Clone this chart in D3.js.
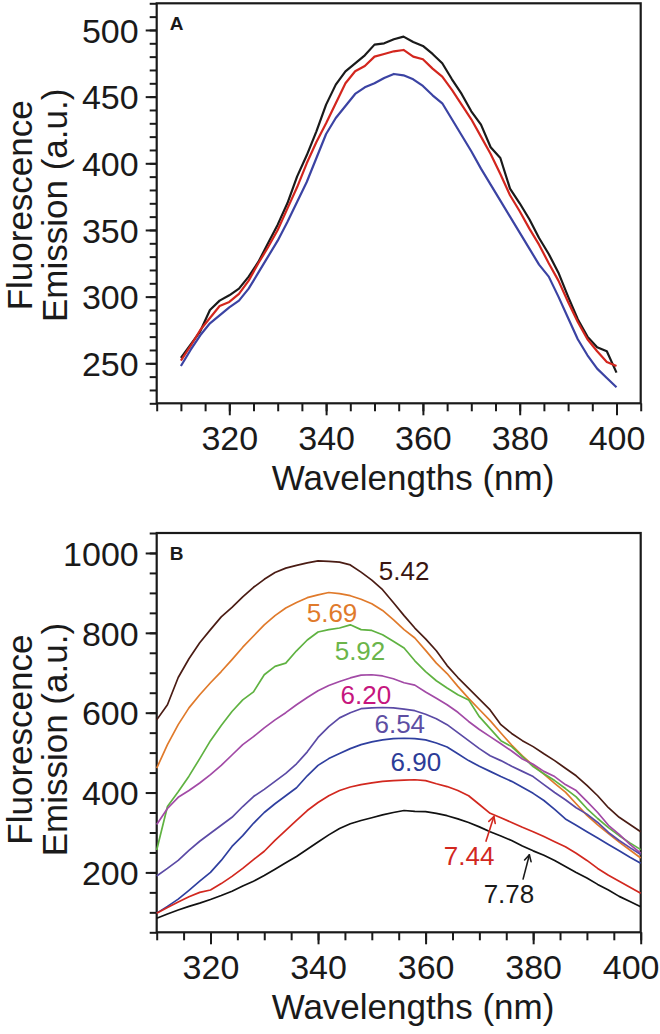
<!DOCTYPE html>
<html><head><meta charset="utf-8">
<script src="https://cdn.jsdelivr.net/npm/d3@7"></script>
<style>
body{margin:0;background:#fff}
svg{display:block}
text{font-family:"Liberation Sans", Arial, Helvetica, sans-serif;fill:#1a1a1a}
</style>
</head><body>
<svg id="chart" width="660" height="1034"></svg>
<script>
// ---------------- DATA ----------------
const wavelengths = [310,312,314,316,318,320,322,324,326,328,330,332,334,336,338,340,342,344,346,348,350,352,354,356,358,360,362,364,366,368,370,372,374,376,378,380,382,384,386,388,390,392,394,396,398,400];

// Panel A
const aBlack = [254,264,274,290,297,301,306,315,326,340,354,370,390,406,424,444,459,469,475,481,489,490,493,495,491,488,482,475,463,452,439,429,412,404,381,370,358,344,332,318,300,283,270,262,259,243];
const aRed   = [252,263,275,284,293,296,302,312,325,337,350,366,382,400,416,430,445,460,469,473,480,482,484,485,480,478,471,465,455,444,433,420,407,392,376,364,351,339,325,312,296,281,268,259,251,248];
const aBlue  = [248,260,271,280,286,292,297,306,318,330,342,356,371,386,404,422,434,443,452,457,460,464,467,466,463,458,451,445,433,421,409,396,384,372,360,348,336,324,315,300,284,268,256,246,239,232];

// Panel B (pH series)
const b542 = [582,620,688,735,775,808,840,864,890,914,934,951,962,969,975,980,979,977,970,952,932,908,876,843,812,785,755,718,688,661,634,607,570,548,530,515,497,480,461,442,418,392,362,338,320,302];
const b569 = [461,520,570,612,645,675,703,733,764,792,820,843,862,876,888,895,901,898,893,884,873,856,833,808,787,756,724,698,666,636,608,580,549,519,492,468,446,423,401,372,343,319,297,276,256,236];
const b592 = [256,365,402,441,485,530,568,603,632,652,695,716,724,755,782,802,808,812,820,808,806,795,779,762,730,703,680,662,645,632,590,560,530,515,490,465,447,430,410,389,360,335,312,292,274,257];
const b620 = [320,360,388,405,424,445,468,494,520,540,562,582,600,620,638,655,668,678,687,694,695,692,685,675,669,652,636,620,601,578,558,540,522,504,484,471,453,440,420,405,378,350,318,295,270,248];
const b654 = [191,210,230,255,278,298,318,338,365,390,408,428,448,472,502,538,565,587,600,610,612,613,612,609,605,596,585,570,550,530,510,492,480,466,453,440,420,400,382,362,346,325,300,280,262,245];
const b690 = [98,115,133,155,178,200,230,265,292,323,350,372,392,412,442,468,485,498,510,520,527,532,535,536,535,532,524,514,497,480,466,453,440,428,413,398,380,358,334,318,302,286,270,254,238,223];
const b744 = [98,112,126,139,150,156,172,190,210,232,253,280,305,330,355,375,392,405,414,420,424,428,430,431,432,430,422,415,405,392,370,348,337,325,313,302,290,277,264,248,230,210,193,178,163,148];
const b778 = [85,96,106,115,123,132,142,153,166,178,192,208,224,240,258,276,294,310,322,330,337,344,350,355,353,352,348,342,334,325,314,302,291,280,266,254,243,230,215,200,186,170,156,140,127,114];

const bSeriesNames = ["5.42","5.69","5.92","6.20","6.54","6.90","7.44","7.78"];
const bLineColors  = ["#4a1c14","#e07a2b","#5fb241","#a24aa6","#5b4aa5","#2f3f9f","#d2281f","#111111"];
const bTextColors  = ["#3a1510","#e07a2b","#6bb54a","#c6167e","#5d4ea3","#2c3c98","#d2281f","#1a1a1a"];
// label anchor (wavelength, intensity) for each pH label
const bLabelNm  = [356.0,342.6,347.8,348.9,355.2,358.2,368.1,375.5];
const bLabelVal = [933,828,733,622,550,455,219,124];
// arrows for 7.44 and 7.78 : [nmFrom, valFrom, nmTo, valTo, colour]
const bArrows = [[371.2,277,372.7,340,"#d2281f"],[378.1,182,379.3,244,"#1a1a1a"]];

const aXTicks = [320,340,360,380,400];
const aYTicks = [250,300,350,400,450,500];
const bXTicks = [320,340,360,380,400];
const bYTicks = [200,400,600,800,1000];

// ---------------- DRAW ----------------
const svg = d3.select("#chart");
const X0 = 156.7, X1 = 640.7, W = 660;

function drawPanel(cfg){
  const g = svg.append("g");
  const x = d3.scaleLinear().domain(cfg.xDomain).range([X0, X1]);
  const y = d3.scaleLinear().domain(cfg.yDomain).range([cfg.bottom, cfg.top]);

  const xMinor = d3.range(cfg.xDomain[0], cfg.xDomain[1] + 0.001, cfg.xMinorStep);
  const yMinor = d3.range(cfg.yDomain[0], cfg.yDomain[1] + 0.001, cfg.yMinorStep);

  const gxm = g.append("g").attr("transform", `translate(0,${cfg.bottom})`)
    .call(d3.axisBottom(x).tickValues(xMinor).tickSize(8).tickFormat(""));
  gxm.select(".domain").remove();
  const gx = g.append("g").attr("transform", `translate(0,${cfg.bottom})`)
    .call(d3.axisBottom(x).tickValues(cfg.xTicks).tickSize(12).tickFormat(d3.format("d")));
  gx.select(".domain").remove();
  gx.selectAll("text").attr("y", 47).attr("dy", null)
    .style("font-size", "34px").style("fill", "#1a1a1a")
    .each(function(){
      const bb = this.getBBox();
      const tx = x(+this.textContent);
      if (tx + bb.width / 2 > W - 1) {
        d3.select(this).attr("text-anchor", "end").attr("x", (W - 1) - tx);
      }
    });

  const gym = g.append("g").attr("transform", `translate(${X0},0)`)
    .call(d3.axisLeft(y).tickValues(yMinor).tickSize(7).tickFormat(""));
  gym.select(".domain").remove();
  const gy = g.append("g").attr("transform", `translate(${X0},0)`)
    .call(d3.axisLeft(y).tickValues(cfg.yTicks).tickSize(11).tickFormat(d3.format("d")));
  gy.select(".domain").remove();
  gy.selectAll("text").attr("x", -18).attr("dy", "0.36em")
    .style("font-size", "34px").style("fill", "#1a1a1a");

  g.selectAll(".tick line").attr("stroke", "#1a1a1a").attr("stroke-width", 2);

  g.append("rect").attr("x", X0).attr("y", cfg.top)
    .attr("width", X1 - X0).attr("height", cfg.bottom - cfg.top)
    .attr("fill", "none").attr("stroke", "#1a1a1a").attr("stroke-width", 2.2);

  const line = d3.line().x((d, i) => x(wavelengths[i])).y(d => y(d));
  cfg.series.forEach((s, i) => {
    g.append("path").datum(s).attr("d", line)
      .attr("fill", "none").attr("stroke", cfg.colors[i])
      .attr("stroke-width", cfg.lineWidth).attr("stroke-linejoin", "round");
  });

  g.append("text").attr("x", X0 + 13).attr("y", cfg.top + 27)
    .style("font-size", "19px").style("font-weight", "bold").text(cfg.letter);

  g.append("text").attr("x", 413).attr("y", cfg.bottom + 87)
    .attr("text-anchor", "middle").style("font-size", "35px").text("Wavelengths (nm)");
  const cy = (cfg.top + cfg.bottom) / 2 + cfg.titleShift;
  g.append("text").attr("transform", `translate(32,${cy}) rotate(-90)`)
    .attr("text-anchor", "middle").style("font-size", "35px").text("Fluorescence");
  g.append("text").attr("transform", `translate(67,${cy}) rotate(-90)`)
    .attr("text-anchor", "middle").style("font-size", "35px").text("Emission (a.u.)");

  return {g, x, y};
}

drawPanel({
  letter: "A", top: 3.3, bottom: 403.3, titleShift: 2,
  xDomain: [305, 405], yDomain: [220, 520],
  xMinorStep: 5, yMinorStep: 10,
  xTicks: aXTicks, yTicks: aYTicks,
  series: [aBlack, aRed, aBlue],
  colors: ["#1a1a1a", "#d3261e", "#3b43a3"],
  lineWidth: 2.2
});

const pb = drawPanel({
  letter: "B", top: 533, bottom: 932.3, titleShift: 7,
  xDomain: [310, 400], yDomain: [50, 1050],
  xMinorStep: 5, yMinorStep: 50,
  xTicks: bXTicks, yTicks: bYTicks,
  series: [b542, b569, b592, b620, b654, b690, b744, b778],
  colors: bLineColors,
  lineWidth: 1.7
});

bSeriesNames.forEach((name, i) => {
  pb.g.append("text").attr("x", pb.x(bLabelNm[i])).attr("y", pb.y(bLabelVal[i]))
    .attr("text-anchor", "middle").style("font-size", "26px")
    .style("fill", bTextColors[i]).text(name);
});
bArrows.forEach(a => {
  const x1 = pb.x(a[0]), y1 = pb.y(a[1]), x2 = pb.x(a[2]), y2 = pb.y(a[3]);
  pb.g.append("line").attr("x1", x1).attr("y1", y1).attr("x2", x2).attr("y2", y2)
    .attr("stroke", a[4]).attr("stroke-width", 1.6);
  const ang = Math.atan2(y2 - y1, x2 - x1);
  const L = 7, sp = 0.5;
  [ang + Math.PI - sp, ang + Math.PI + sp].forEach(t => {
    pb.g.append("line").attr("x1", x2).attr("y1", y2)
      .attr("x2", x2 + L * Math.cos(t)).attr("y2", y2 + L * Math.sin(t))
      .attr("stroke", a[4]).attr("stroke-width", 1.6).attr("stroke-linecap", "round");
  });
});
</script>
</body></html>
